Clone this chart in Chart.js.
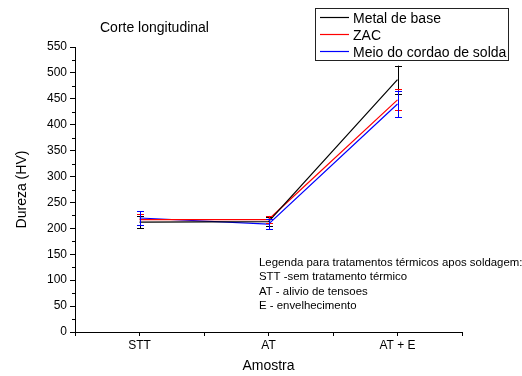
<!DOCTYPE html>
<html>
<head>
<meta charset="utf-8">
<script src="https://cdn.jsdelivr.net/npm/chart.js@4/dist/chart.umd.min.js"></script>
<style>
  body { margin: 0; background: #fff; }
</style>
</head>
<body>
<canvas id="c" width="522" height="376"></canvas>
<script>
// data
const categories = ["STT", "AT", "AT + E"];
const seriesNames = ["Metal de base", "ZAC", "Meio do cordao de solda"];
const seriesColors = ["#000000", "#ff0000", "#0000ff"];
const metalBase = [212, 213, 487];
const zac = [217, 217, 448];
const meioCordao = [220, 208, 440];
const metalBaseErr = [12, 8, 27];
const zacErr = [10, 7, 20];
const meioCordaoErr = [13, 10, 26];
const yTicks = [0, 50, 100, 150, 200, 250, 300, 350, 400, 450, 500, 550];
const chartTitle = "Corte longitudinal";
const notes = [
  "Legenda para tratamentos térmicos apos soldagem:",
  "STT -sem tratamento térmico",
  "AT - alivio de tensoes",
  "E - envelhecimento"
];

const values = [metalBase, zac, meioCordao];
const errors = [metalBaseErr, zacErr, meioCordaoErr];
const FONT = "'Liberation Sans', Arial, sans-serif";

const toPoints = (arr) => arr.map((v, i) => ({ x: i + 1, y: v }));

const extras = {
  id: "extras",
  afterDatasetsDraw(chart) {
    const ctx = chart.ctx;
    const xs = chart.scales.x;
    const ys = chart.scales.y;
    ctx.save();
    // error bars
    values.forEach((vals, d) => {
      ctx.strokeStyle = seriesColors[d];
      ctx.lineWidth = 1;
      vals.forEach((v, i) => {
        const px = Math.round(xs.getPixelForValue(i + 1)) + 0.5;
        const top = ys.getPixelForValue(v + errors[d][i]);
        const bot = ys.getPixelForValue(v - errors[d][i]);
        ctx.beginPath();
        ctx.moveTo(px, top); ctx.lineTo(px, bot);
        ctx.moveTo(px - 3.5, Math.round(top) + 0.5); ctx.lineTo(px + 3.5, Math.round(top) + 0.5);
        ctx.moveTo(px - 3.5, Math.round(bot) + 0.5); ctx.lineTo(px + 3.5, Math.round(bot) + 0.5);
        ctx.stroke();
      });
    });
    // minor y ticks
    ctx.strokeStyle = "#000";
    const left = chart.chartArea.left;
    for (let k = 0; k < yTicks.length - 1; k++) {
      const py = Math.round(ys.getPixelForValue((yTicks[k] + yTicks[k + 1]) / 2)) + 0.5;
      ctx.beginPath();
      ctx.moveTo(left - 3, py); ctx.lineTo(left, py);
      ctx.stroke();
    }
    ctx.restore();
  },
  afterDraw(chart) {
    const ctx = chart.ctx;
    ctx.save();
    ctx.fillStyle = "#000";
    ctx.textBaseline = "alphabetic";
    ctx.font = "14px " + FONT;
    ctx.fillText(chartTitle, 100, 32);

    ctx.font = "11.4px " + FONT;
    notes.forEach((t, i) => ctx.fillText(t, 259, 266 + i * 14.3));

    // legend box
    ctx.fillStyle = "#fff";
    ctx.fillRect(315, 8, 193, 52);
    ctx.strokeStyle = "#222";
    ctx.lineWidth = 1;
    ctx.strokeRect(315.5, 8.5, 193, 52);
    ctx.font = "14px " + FONT;
    seriesNames.forEach((name, i) => {
      const y = 17.5 + i * 17;
      ctx.strokeStyle = seriesColors[i];
      ctx.lineWidth = 1.2;
      ctx.beginPath();
      ctx.moveTo(320, y); ctx.lineTo(349, y);
      ctx.stroke();
      ctx.fillStyle = "#000";
      ctx.fillText(name, 353, y + 5);
    });
    ctx.restore();
  }
};

new Chart(document.getElementById("c"), {
  type: "line",
  data: {
    datasets: values.map((vals, d) => ({
      label: seriesNames[d],
      data: toPoints(vals),
      borderColor: seriesColors[d],
      borderWidth: 1.2,
      pointRadius: 0,
      tension: 0,
      fill: false
    }))
  },
  options: {
    responsive: false,
    animation: false,
    devicePixelRatio: 1,
    layout: { padding: { top: 47, right: 60, left: 0, bottom: 0 } },
    plugins: { legend: { display: false }, tooltip: { enabled: false } },
    scales: {
      x: {
        type: "linear",
        min: 0.5,
        max: 3.5,
        afterFit: (s) => { s.height = 44; },
        border: { display: true, color: "#000", width: 1 },
        grid: { drawOnChartArea: false, drawTicks: true, tickLength: 4, color: "#000" },
        ticks: {
          stepSize: 0.5,
          autoSkip: false,
          maxRotation: 0,
          padding: 2,
          color: "#000",
          font: { family: FONT, size: 12 },
          callback: (v) => Number.isInteger(v) && categories[v - 1] ? categories[v - 1] : ""
        },
        title: {
          display: true,
          text: "Amostra",
          color: "#000",
          font: { family: FONT, size: 14 },
          padding: { top: 0, bottom: 1 }
        }
      },
      y: {
        min: yTicks[0],
        max: yTicks[yTicks.length - 1],
        afterFit: (s) => { s.width = 75; },
        afterBuildTicks: (s) => { s.ticks = yTicks.map((v) => ({ value: v })); },
        border: { display: true, color: "#000", width: 1 },
        grid: { drawOnChartArea: false, drawTicks: true, tickLength: 5, color: "#000" },
        ticks: {
          padding: 3,
          color: "#000",
          font: { family: FONT, size: 12 }
        },
        title: {
          display: true,
          text: "Dureza (HV)",
          color: "#000",
          font: { family: FONT, size: 14 },
          padding: { top: 14, bottom: 0 }
        }
      }
    }
  },
  plugins: [extras]
});
</script>
</body>
</html>
